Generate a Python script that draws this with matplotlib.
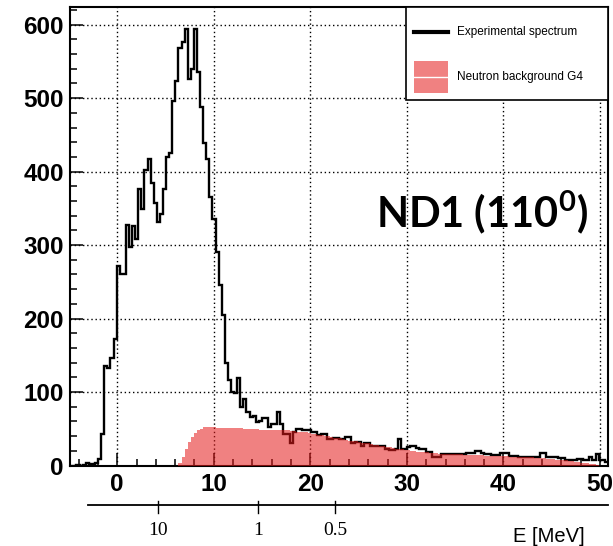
import numpy as np
import matplotlib
matplotlib.use("Agg")
import matplotlib.pyplot as plt
from matplotlib.ticker import MultipleLocator
from matplotlib.patches import Rectangle
from matplotlib.lines import Line2D

plt.rcParams["font.family"] = ["Liberation Sans", "DejaVu Sans"]
plt.rcParams["mathtext.default"] = "regular"

# -----------------------------
# Data
# -----------------------------
X_START = -4.86   # left edge of first bin
BIN_W = 0.32      # bin width

# experimental spectrum, counts per bin
counts = [
    0, 0, 1, 0, 1, 4, 2, 2, 4, 9,
    43, 136, 133, 147, 172, 272, 261, 261, 327, 298,
    326, 308, 377, 349, 402, 417, 385, 357, 332, 343,
    377, 420, 426, 496, 523, 568, 577, 594, 526, 540,
    594, 535, 488, 439, 417, 366, 336, 291, 246, 205,
    140, 116, 100, 99, 119, 80, 91, 73, 66, 68,
    59, 61, 64, 64, 52, 57, 57, 73, 57, 43,
    43, 30, 45, 50, 50, 49, 49, 48, 45, 45,
    41, 43, 43, 36, 36, 38, 38, 36, 36, 39,
    39, 30, 32, 32, 27, 30, 30, 26, 26, 27,
    27, 26, 23, 21, 21, 23, 36, 23, 23, 25,
    26, 26, 24, 23, 23, 18, 18, 12, 12, 12,
    15, 15, 16, 16, 15, 15, 15, 15, 17, 17,
    17, 20, 20, 17, 15, 15, 14, 14, 14, 17,
    17, 17, 13, 13, 13, 11, 11, 11, 11, 12,
    12, 11, 17, 17, 12, 12, 11, 11, 10, 10,
    8, 8, 7, 7, 9, 9, 8, 8, 11, 8,
    15, 7, 7, 5, 5,
]

# simulated neutron background (G4), same binning
background = [0] * 35 + [
    3,
    12, 23, 32, 39, 44, 48, 50, 52, 52, 52,
    52, 51, 51, 51, 51, 51, 51, 51, 51, 51,
    50, 50, 50, 50, 50, 49, 49, 49, 49, 49,
    49, 49, 48, 48, 48, 47, 47, 46, 46, 45,
    45, 44, 43, 43, 42, 41, 40, 40, 39, 38,
    37, 37, 36, 35, 34, 34, 33, 32, 31, 31,
    30, 29, 28, 28, 27, 26, 25, 25, 24, 23,
    22, 22, 21, 21, 20, 20, 19, 19, 18, 18,
    17, 17, 17, 16, 16, 16, 15, 15, 15, 15,
    15, 14, 14, 14, 14, 14, 14, 14, 13, 13,
    13, 13, 13, 13, 13, 13, 12, 12, 12, 12,
    11, 11, 11, 11, 10, 10, 10, 10, 9, 9,
    9, 8, 8, 7, 7, 6, 6, 5, 5, 4,
    4, 3, 2, 2, 1, 0, 0, 0, 0,
]

# energy scale shown under the axis
energy_pos = [4.23, 14.58, 22.56]
energy_labels = ["10", "1", "0.5"]

edges = X_START + BIN_W * np.arange(len(counts) + 1)

RED = "#e51a1a"

# -----------------------------
# Plot
# -----------------------------
fig = plt.figure(figsize=(6.13, 5.46), dpi=100)
ax = fig.add_axes([0.1134, 0.1474, 0.8777, 0.8397])

ax.stairs(counts, edges, color="black", linewidth=1.7, zorder=2)
ax.stairs(background, edges, fill=True, facecolor=RED, alpha=0.55,
          linewidth=0, zorder=3)

ax.set_xlim(-4.94, 50.78)
ax.set_ylim(0, 624)
ax.set_xticks(range(0, 51, 10))
ax.set_yticks(range(0, 601, 100))
ax.xaxis.set_minor_locator(MultipleLocator(2))
ax.yaxis.set_minor_locator(MultipleLocator(20))
ax.tick_params(which="both", direction="in", top=False, right=False, width=1.1)
ax.tick_params(which="major", length=9.5, labelsize=17.5)
ax.tick_params(axis="x", which="major", pad=5.5)
ax.tick_params(axis="y", which="major", pad=4)
ax.tick_params(which="minor", length=5)
for lbl in ax.get_xticklabels() + ax.get_yticklabels():
    lbl.set_fontweight("bold")
ax.grid(True, which="major", color="black", linestyle=(0, (1, 2)), linewidth=1.0)
ax.set_axisbelow(True)
for sp in ax.spines.values():
    sp.set_linewidth(1.5)

# detector label
ax.text(0.964, 0.553, "ND1 (110$^{0}$)", transform=ax.transAxes,
        ha="right", va="center", fontsize=30, fontweight="bold", family="Lato")

# -----------------------------
# Legend (ROOT-style box)
# -----------------------------
ax.add_patch(Rectangle((0.6255, 0.797), 0.3745, 0.203, transform=ax.transAxes,
                       facecolor="white", edgecolor="black", linewidth=1.2,
                       zorder=5, clip_on=False))
ax.add_line(Line2D([0.640, 0.703], [0.9455, 0.9455], transform=ax.transAxes,
                   color="black", linewidth=3, zorder=6))
ax.text(0.720, 0.9455, "Experimental spectrum", transform=ax.transAxes,
        ha="left", va="center", fontsize=8.5, zorder=6)
ax.add_patch(Rectangle((0.640, 0.8124), 0.063, 0.0696, transform=ax.transAxes,
                       facecolor=RED, alpha=0.55, linewidth=0, zorder=6))
ax.add_line(Line2D([0.640, 0.703], [0.847, 0.847], transform=ax.transAxes,
                   color="white", linewidth=1, zorder=7))
ax.text(0.720, 0.847, "Neutron background G4", transform=ax.transAxes,
        ha="left", va="center", fontsize=8.5, zorder=6)

# -----------------------------
# Energy axis below
# -----------------------------
trans = ax.get_xaxis_transform()
ax.plot([-3.02, 50.78], [-0.0872, -0.0872], transform=trans, color="black",
        linewidth=1.3, clip_on=False)
for pos, lab in zip(energy_pos, energy_labels):
    ax.plot([pos, pos], [-0.0763, -0.1036], transform=trans, color="black",
            linewidth=1.0, clip_on=False)
    ax.text(pos, -0.1407, lab, transform=trans, ha="center", va="center",
            fontsize=14, family="Liberation Serif")
ax.text(0.891, -0.1538, "E [MeV]", transform=ax.transAxes, ha="center",
        va="center", fontsize=14.5)

fig.savefig("out.png", dpi=100)
